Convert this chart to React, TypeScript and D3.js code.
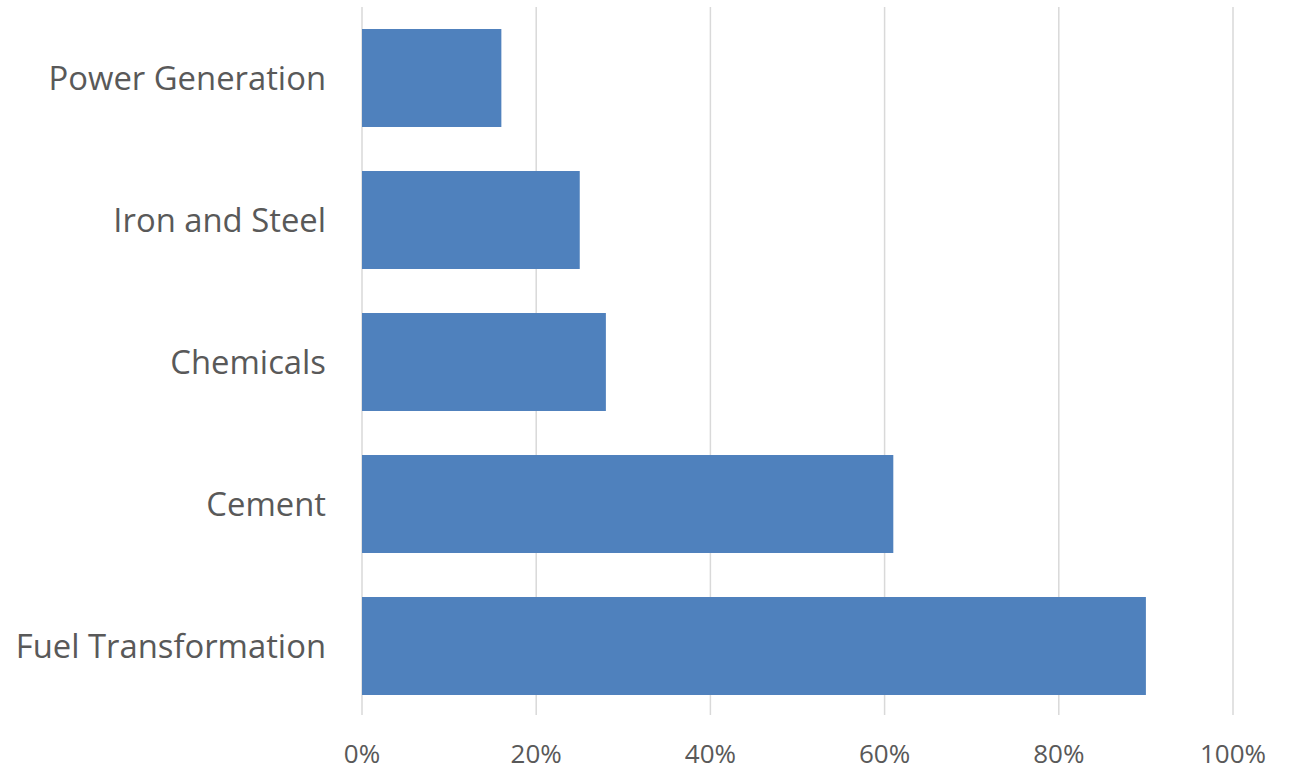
import React from "react";
import * as d3 from "d3";

const categories = ["Power Generation", "Iron and Steel", "Chemicals", "Cement", "Fuel Transformation"];
const values = [0.16, 0.25, 0.28, 0.61, 0.9];
const xTicks = [0, 0.2, 0.4, 0.6, 0.8, 1.0];

export default function App() {
  const W = 1299, H = 771;
  const left = 362, right = 1233, top = 7, bottom = 717;
  const x = d3.scaleLinear().domain([0, 1]).range([left, right]);
  const y = d3.scaleBand<string>().domain(categories).range([top, bottom]).paddingInner(0.31).paddingOuter(0.155);
  const fmt = d3.format(".0%");
  const font = "'Open Sans', sans-serif";
  return (
    <svg width={W} height={H} style={{ position: "absolute", left: 0, top: 0, background: "#fff" }}>
      {xTicks.map((t) => (
        <line key={t} x1={x(t)} x2={x(t)} y1={top} y2={bottom - 2} stroke="#d9d9d9" strokeWidth={1.5} />
      ))}
      {categories.map((c, i) => (
        <rect key={c} x={x(0)} y={y(c)!} width={x(values[i]) - x(0)} height={y.bandwidth()} fill="#4f81bd" />
      ))}
      {categories.map((c) => (
        <text key={c} x={326} y={y(c)! + y.bandwidth() / 2 + 12} textAnchor="end" fontFamily={font} fontSize={32.8} fill="#595959">
          {c}
        </text>
      ))}
      {xTicks.map((t) => (
        <text key={t} x={x(t)} y={763} textAnchor="middle" fontFamily={font} fontSize={26} fill="#595959">
          {fmt(t)}
        </text>
      ))}
    </svg>
  );
}
